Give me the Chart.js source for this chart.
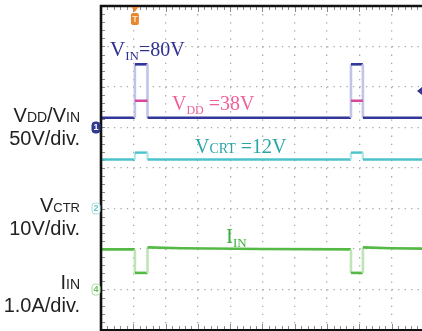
<!DOCTYPE html>
<html><head><meta charset="utf-8">
<script src="https://cdn.jsdelivr.net/npm/chart.js@4/dist/chart.umd.min.js"></script>
<style>html,body{margin:0;padding:0;background:#fff;overflow:hidden}canvas{display:block}</style>
</head><body>
<canvas id="c" width="422" height="331"></canvas>
<script>
// ---- data (time in horizontal divisions) ----
const timeDiv   = [0, 1.05, 1.05, 1.44, 1.44, 7.74, 7.74, 8.11, 8.11, 9.94];
const vinVolts  = [12, 12, 78, 78, 12, 12, 78, 78, 12, 12];
const vddVolts  = [null, null, 33, 33, null, null, 33, 33, null, null];
const vcrtVolts = [12.1, 12.1, 13.8, 13.8, 12.1, 12.1, 13.8, 13.8, 12.1, 12.1];
const iinTime   = [0, 1.05, 1.05, 1.44, 1.44, 2.5, 5.0, 7.74, 7.74, 8.11, 8.11, 9.0, 9.94];
const iinAmps   = [0.99, 0.99, 0.41, 0.41, 1.04, 1.02, 1.0, 0.99, 0.41, 0.41, 1.04, 1.02, 1.01];
// channel ranges (screen bottom..top, 8 divisions)
const ch1Range = [-250, 150];   // 50 V/div
const ch2Range = [-30, 50];     // 10 V/div
const ch4Range = [-1, 7];       // 1.0 A/div
const triggerTime = 1.05;
const triggerLevelDiv = 5.9;
const traceLabels = ["=80V", " =38V", " =12V"];
const scaleLabels = ["50V/div.", "10V/div.", "1.0A/div."];

const pts = (xs, ys) => xs.map((x, i) => ({x, y: ys[i]}));
const edge = c => ({borderColor: ctx => ctx.p0.parsed.x === ctx.p1.parsed.x ? c : undefined});

const C_VIN = '#34379a', C_VDD = '#d8479a', C_CRT = '#4cc3cc', C_IIN = '#55b946';

const scopePlugin = {
  id: 'scope',
  beforeDatasetsDraw(chart) {
    const {ctx, chartArea: a, scales} = chart;
    const xs = scales.x, ys = scales.y;
    ctx.save();
    ctx.strokeStyle = '#8a8a8a'; ctx.lineWidth = 1;
    for (let v = 0; v <= 10; v += 0.2) {
      const px = Math.round(xs.getPixelForValue(v)) + 0.5;
      if (px > a.right) break;
      const major = Math.abs(v - Math.round(v)) < 1e-6;
      ctx.beginPath(); ctx.moveTo(px, a.top); ctx.lineTo(px, a.top + (major ? 6 : 4)); ctx.stroke();
      ctx.beginPath(); ctx.moveTo(px, a.bottom); ctx.lineTo(px, a.bottom - (major ? 6 : 4)); ctx.stroke();
    }
    for (let v = 0; v <= 8.001; v += 0.2) {
      const py = Math.round(ys.getPixelForValue(v)) + 0.5;
      ctx.beginPath(); ctx.moveTo(a.left, py); ctx.lineTo(a.left + 4, py); ctx.stroke();
    }
    ctx.restore();
  },
  afterDraw(chart) {
    const {ctx, chartArea: a, scales} = chart;
    ctx.save();
    // frame
    ctx.strokeStyle = '#111'; ctx.lineWidth = 2.6;
    ctx.beginPath(); ctx.moveTo(a.left, a.bottom + 2); ctx.lineTo(a.left, a.top); ctx.lineTo(a.right + 2, a.top); ctx.stroke();
    ctx.lineWidth = 2;
    ctx.beginPath(); ctx.moveTo(a.left, a.bottom); ctx.lineTo(a.right + 2, a.bottom); ctx.stroke();

    // trigger marker
    const tx = scales.x.getPixelForValue(triggerTime);
    ctx.fillStyle = '#e8872e';
    ctx.beginPath(); ctx.moveTo(tx - 3.5, a.top + 1); ctx.lineTo(tx + 3.5, a.top + 1); ctx.lineTo(tx, a.top + 6); ctx.closePath(); ctx.fill();
    ctx.beginPath(); ctx.roundRect(tx - 4, a.top + 7, 8, 12, 2); ctx.fill();
    ctx.fillStyle = '#fbe0c4'; ctx.font = 'bold 9px "Liberation Sans"'; ctx.textAlign = 'center'; ctx.textBaseline = 'middle';
    ctx.fillText('T', tx, a.top + 13.5);

    // trigger level marker on right
    const ty = scales.y.getPixelForValue(triggerLevelDiv);
    ctx.fillStyle = C_VIN;
    ctx.beginPath(); ctx.moveTo(a.right - 5, ty); ctx.lineTo(a.right, ty - 4); ctx.lineTo(a.right, ty + 4); ctx.closePath(); ctx.fill();

    // channel ground markers
    const mark = (py, label, fill, stroke, txt) => {
      ctx.beginPath(); ctx.roundRect(a.left - 9, py - 5.5, 8, 11, 3);
      ctx.fillStyle = fill; ctx.fill();
      ctx.strokeStyle = stroke; ctx.lineWidth = 1; ctx.stroke();
      ctx.fillStyle = txt; ctx.font = 'bold 9px "Liberation Sans"'; ctx.textAlign = 'center'; ctx.textBaseline = 'middle';
      ctx.fillText(label, a.left - 5, py + 0.5);
    };
    mark(scales.yV.getPixelForValue(0), '1', '#2f3a8f', '#2f3a8f', '#ffffff');
    mark(scales.yC.getPixelForValue(0), '2', '#ffffff', '#a9dede', '#6cc4c4');
    mark(scales.yI.getPixelForValue(0), '4', '#ffffff', '#a8dca0', '#6cbf60');

    // rich text helper
    const rich = (parts, x, y, color, family, align, sx) => {
      ctx.save();
      ctx.fillStyle = color; ctx.textBaseline = 'alphabetic'; ctx.textAlign = 'left';
      let w = 0;
      parts.forEach(p => { ctx.font = p[1] + 'px ' + family; w += ctx.measureText(p[0]).width; });
      ctx.translate(x, y); ctx.scale(sx || 1, 1);
      let cx = align === 'right' ? -w : 0;
      parts.forEach(p => { ctx.font = p[1] + 'px ' + family; ctx.fillText(p[0], cx, p[2] || 0); cx += ctx.measureText(p[0]).width; });
      ctx.restore();
    };
    const serif = '"Liberation Serif", "Times New Roman", serif';
    rich([['V', 21], ['IN', 13, 4], [traceLabels[0], 20]], 110, 56, '#2e3192', serif);
    rich([['V', 20], ['DD', 12, 4], [traceLabels[1], 20]], 172, 110, '#f0609a', serif);
    rich([['V', 20], ['CRT', 14], [traceLabels[2], 20]], 195, 153, '#2aa5a5', serif);
    rich([['I', 21], ['IN', 13, 4]], 226, 243, '#3cb03c', serif);

    const sans = '"Liberation Sans", Arial, sans-serif';
    const lc = '#222';
    rich([['V', 20], ['DD', 14], ['/V', 20], ['IN', 14]], 80, 122, lc, sans, 'right');
    rich([[scaleLabels[0], 20]], 80, 145, lc, sans, 'right');
    rich([['V', 20], ['CTR', 13]], 80, 212, lc, sans, 'right');
    rich([[scaleLabels[1], 20]], 80, 235, lc, sans, 'right');
    rich([['I', 20], ['IN', 14]], 80, 289, lc, sans, 'right');
    rich([[scaleLabels[2], 20]], 80, 312, lc, sans, 'right');
    ctx.restore();
  }
};

new Chart(document.getElementById('c'), {
  type: 'line',
  data: {
    datasets: [
      {label: 'VDD', data: pts(timeDiv, vddVolts), yAxisID: 'yV', borderColor: C_VDD, borderWidth: 2.5, order: 1},
      {label: 'VIN', data: pts(timeDiv, vinVolts), yAxisID: 'yV', borderColor: C_VIN, borderWidth: 2.6, segment: edge('#c3c3ea'), order: 2},
      {label: 'VCRT', data: pts(timeDiv, vcrtVolts), yAxisID: 'yC', borderColor: C_CRT, borderWidth: 2.4, segment: edge('#b4e6ea'), order: 3},
      {label: 'IIN', data: pts(iinTime, iinAmps), yAxisID: 'yI', borderColor: C_IIN, borderWidth: 2.6, segment: edge('#bfe4b6'), order: 4}
    ]
  },
  options: {
    responsive: false, animation: false, events: [],
    layout: {padding: {left: 101, top: 6, right: 0, bottom: 1}},
    elements: {point: {radius: 0}, line: {tension: 0}},
    plugins: {legend: {display: false}, tooltip: {enabled: false}},
    scales: {
      x: {type: 'linear', position: 'bottom', min: 0, max: 9.94,
          ticks: {display: false, stepSize: 1, includeBounds: false},
          grid: {color: '#a8a8a8', lineWidth: 1.3, drawTicks: false},
          border: {display: false, dash: [1.3, 6.8]}},
      y: {type: 'linear', position: 'left', min: 0, max: 8,
          ticks: {display: false, stepSize: 1},
          grid: {color: '#a8a8a8', lineWidth: 1.3, drawTicks: false},
          border: {display: false, dash: [1.3, 5.16]}},
      yV: {display: false, min: ch1Range[0], max: ch1Range[1]},
      yC: {display: false, min: ch2Range[0], max: ch2Range[1]},
      yI: {display: false, min: ch4Range[0], max: ch4Range[1]}
    }
  },
  plugins: [scopePlugin]
});
</script>
</body></html>
